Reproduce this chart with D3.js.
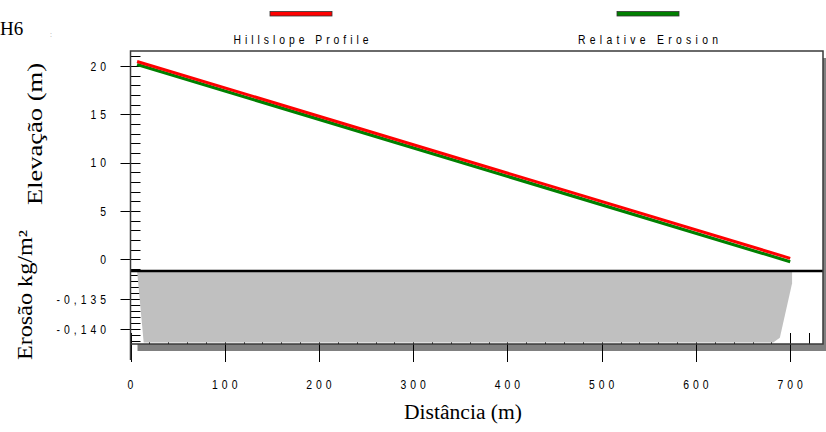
<!DOCTYPE html>
<html>
<head>
<meta charset="utf-8">
<script src="https://cdn.jsdelivr.net/npm/d3@7"></script>
<style>
  html, body { margin: 0; padding: 0; background: #fff; }
  svg { display: block; }
  .narrow { font-family: "Liberation Sans Narrow", "Arial Narrow", "Liberation Sans", Arial, sans-serif; }
  .serif { font-family: "Liberation Serif", "Times New Roman", serif; }
</style>
</head>
<body>
<svg id="chart" width="826" height="432"></svg>
<script>
// Hillslope profile (elevation along the slope), metres
const profileDist = [7, 700];
const profileElev = [20.47, 0.10];

// Relative erosion line, drawn along the profile just beneath it
const erosionLineDist = [7, 700];
const erosionLineElev = [20.16, -0.25];

// Soil loss along the slope, kg/m²
const soilLossDist = [7, 14, 682, 689, 702];
const soilLossVal = [-0.1304, -0.1422, -0.1422, -0.1414, -0.1324];

// Axis ticks
const xTicks = [0, 100, 200, 300, 400, 500, 600, 700];
const elevTicks = [0, 5, 10, 15, 20];
const elevTickLabels = ["0", "5", "10", "15", "20"];
const erosTicks = [-0.135, -0.140];
const erosTickLabels = ["-0,135", "-0,140"];

const legendNames = ["Hillslope Profile", "Relative Erosion"];
const legendColors = ["#ff0000", "#008000"];

const svg = d3.select("#chart");

// Plot frame
const L = 130.5, R = 823, T = 51, B = 344, SPLIT = 271;
const SQUEEZE = 0.8; // horizontal condensing of the small sans labels

const x = d3.scaleLinear().domain([0, 734.8]).range([L, R]);
const yElev = d3.scaleLinear().domain([-1.21, 21.55]).range([SPLIT, T]);
const yEros = d3.scaleLinear().domain([-0.14243, -0.13038]).range([B, SPLIT]);

// drop shadow behind the frame
svg.append("rect").attr("x", L + 7).attr("y", T + 7)
  .attr("width", R - L).attr("height", B - T).attr("fill", "#808080");
svg.append("rect").attr("x", L).attr("y", T)
  .attr("width", R - L).attr("height", B - T).attr("fill", "#fff");

const axisG = svg.append("g").attr("stroke", "#000").attr("stroke-width", 1);

// x ticks: minor every 20 m inside, major every 100 m across the bottom edge
d3.range(0, 740, 20).forEach(d => {
  const px = Math.round(x(d)) + 0.5;
  if (px > R) return;
  const major = d % 100 === 0;
  axisG.append("line").attr("x1", px).attr("x2", px)
    .attr("y1", B - 11).attr("y2", major ? B + 18 : B);
});

// elevation ticks: minor every 1 m
d3.range(-1, 22, 1).forEach(d => {
  const py = Math.round(yElev(d)) + 0.5;
  const major = d % 5 === 0 && d >= 0;
  axisG.append("line").attr("x1", major ? L - 10 : L).attr("x2", L + 10)
    .attr("y1", py).attr("y2", py);
});

// erosion ticks: minor every 0.001
d3.range(-0.131, -0.1425, -0.001).forEach(d => {
  const py = Math.round(yEros(d)) + 0.5;
  const major = Math.abs(d + 0.135) < 1e-6 || Math.abs(d + 0.140) < 1e-6;
  axisG.append("line").attr("x1", major ? L - 10 : L).attr("x2", L + 10)
    .attr("y1", py).attr("y2", py);
});

// soil loss area, hanging from the top of the lower panel
const area = d3.area()
  .x((d, i) => x(soilLossDist[i]))
  .y0(SPLIT)
  .y1((d, i) => yEros(soilLossVal[i]))
  .curve(d3.curveLinear);
svg.append("path").datum(soilLossVal).attr("d", area).attr("fill", "#c0c0c0");

// panel separator
svg.append("line").attr("x1", L).attr("x2", R).attr("y1", SPLIT).attr("y2", SPLIT)
  .attr("stroke", "#000").attr("stroke-width", 2.5);

// frame edges
svg.append("path")
  .attr("d", `M${L},${B + 16}V${T}H${R}V${B}H${L}`)
  .attr("fill", "none").attr("stroke", "#3a3a3a").attr("stroke-width", 1.5);

// profile lines
const line = (xs, ys) => d3.line()
  .x((d, i) => x(xs[i]))
  .y((d, i) => yElev(ys[i]));
svg.append("path").datum(erosionLineElev)
  .attr("d", line(erosionLineDist, erosionLineElev))
  .attr("fill", "none").attr("stroke", legendColors[1]).attr("stroke-width", 3.2);
svg.append("path").datum(profileElev)
  .attr("d", line(profileDist, profileElev))
  .attr("fill", "none").attr("stroke", legendColors[0]).attr("stroke-width", 3);

// condensed label helper
function smallText(g, px, py, anchor, txt) {
  return g.append("text")
    .attr("transform", `translate(${px},${py}) scale(${SQUEEZE},1)`)
    .attr("dy", "0.36em").attr("text-anchor", anchor)
    .attr("letter-spacing", 5)
    .text(txt);
}

// tick labels
const lab = svg.append("g").attr("class", "narrow").attr("font-size", 13).attr("fill", "#000");
elevTicks.forEach((d, i) => {
  smallText(lab, 106, yElev(d), "end", elevTickLabels[i]).attr("dx", 5);
});
erosTicks.forEach((d, i) => {
  smallText(lab, 106, yEros(d), "end", erosTickLabels[i]).attr("dx", 5);
});
xTicks.forEach(d => {
  smallText(lab, x(d) + 2, 384, "middle", d);
});

// legend
const legX = [301, 648];
const legW = [135, 140];
legendNames.forEach((n, i) => {
  svg.append("rect").attr("x", legX[i] - 31).attr("y", 11.5)
    .attr("width", 62).attr("height", 4.5)
    .attr("fill", legendColors[i]).attr("stroke", "#333").attr("stroke-width", 0.8);
  svg.append("text").attr("class", "narrow").attr("font-size", 13)
    .attr("transform", `translate(${legX[i]},44) scale(${SQUEEZE},1)`)
    .attr("text-anchor", "middle")
    .attr("textLength", legW[i] / SQUEEZE).attr("lengthAdjust", "spacing")
    .text(n);
});

// axis titles
svg.append("text").attr("class", "serif").attr("font-size", 20)
  .attr("transform", "translate(42,134) rotate(-90)").attr("text-anchor", "middle")
  .attr("textLength", 142).attr("lengthAdjust", "spacingAndGlyphs")
  .text("Elevação (m)");
svg.append("text").attr("class", "serif").attr("font-size", 20)
  .attr("transform", "translate(32,295) rotate(-90)").attr("text-anchor", "middle")
  .attr("textLength", 130).attr("lengthAdjust", "spacingAndGlyphs")
  .text("Erosão kg/m²");
svg.append("text").attr("class", "serif").attr("font-size", 20)
  .attr("x", 463).attr("y", 419).attr("text-anchor", "middle")
  .attr("textLength", 118).attr("lengthAdjust", "spacingAndGlyphs")
  .text("Distância (m)");

// corner caption
svg.append("text").attr("class", "serif").attr("font-size", 19)
  .attr("x", 0).attr("y", 35).attr("text-anchor", "start").text("H6");
svg.append("text").attr("class", "narrow").attr("font-size", 7).attr("fill", "#999")
  .attr("x", 50).attr("y", 37).text(":");
</script>
</body>
</html>
